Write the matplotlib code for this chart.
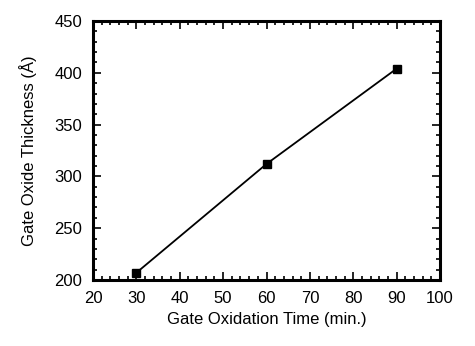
import numpy as np
import matplotlib
matplotlib.use('Agg')
import matplotlib.pyplot as plt
from matplotlib.ticker import MultipleLocator

# oxidation time (min) vs measured gate oxide thickness (Angstrom)
ox_time = [30, 60, 90]
thickness = [207, 312, 404]

plt.rcParams['font.family'] = ['Liberation Sans', 'DejaVu Sans']
plt.rcParams['font.size'] = 12

fig = plt.figure(figsize=(4.75, 3.46), dpi=100)
ax = fig.add_axes([93/475, 1 - 280/346, (440-93)/475, (280-21)/346])

ax.plot(ox_time, thickness, color='k', lw=1.3, marker='s', ms=5.5)

ax.set_xlim(20, 100)
ax.set_ylim(200, 450)
ax.xaxis.set_major_locator(MultipleLocator(10))
ax.xaxis.set_minor_locator(MultipleLocator(2))
ax.yaxis.set_major_locator(MultipleLocator(50))
ax.yaxis.set_minor_locator(MultipleLocator(10))
ax.tick_params(which='both', direction='in', top=True, right=True, width=1.2, color='k')
ax.tick_params(which='major', length=6, pad=8)
ax.tick_params(which='minor', length=3)
for s in ax.spines.values():
    s.set_linewidth(2.2)

ax.set_xlabel('Gate Oxidation Time (min.)', labelpad=4)
ax.set_ylabel('Gate Oxide Thickness (Å)', labelpad=12)

fig.savefig('out.png', dpi=100)
